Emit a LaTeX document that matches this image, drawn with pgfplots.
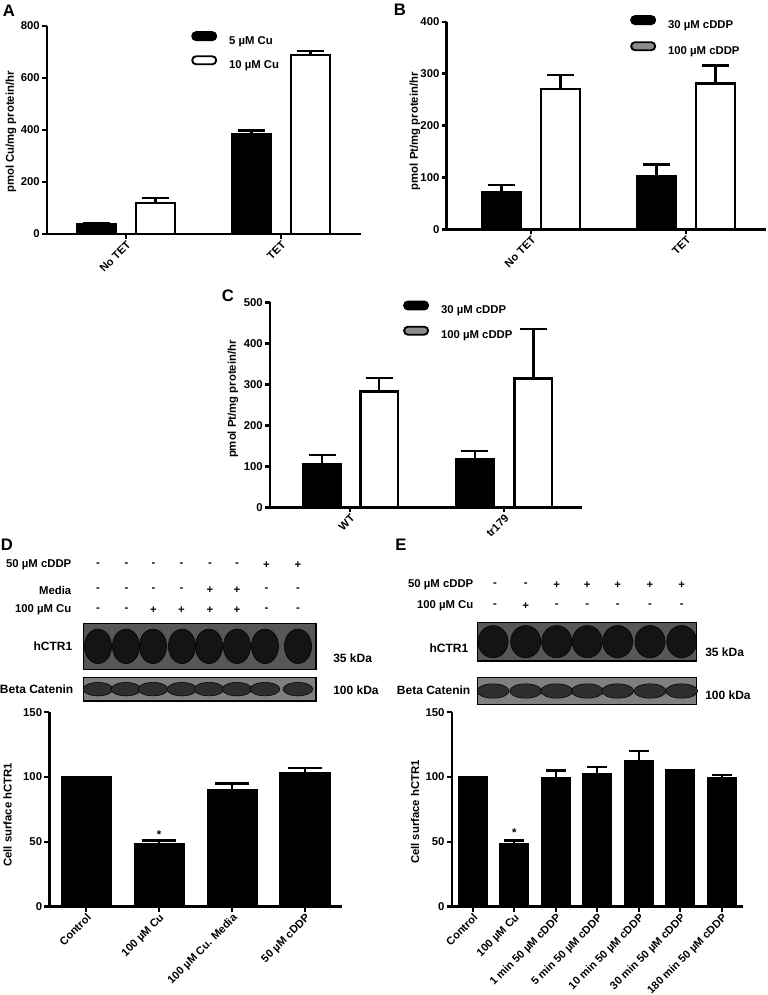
\documentclass[border=0pt]{standalone}
\usepackage{fontspec}
\setmainfont{Liberation Sans}
\usepackage{pgfplots}
\pgfplotsset{compat=1.18}
\newcommand\fs{\bfseries\fontsize{8.5}{10}\selectfont}
\newcommand\fx{\bfseries\fontsize{8.25}{10}\selectfont}
\newcommand\fb{\bfseries\fontsize{9}{10}\selectfont}
\newcommand\fl{\bfseries\fontsize{12.5}{13}\selectfont}
\pgfplotsset{
  panel/.style={
    scale only axis, anchor=south west, axis lines=left, clip=false,
    axis line style={line width=1.8pt, -},
    tick align=outside, major tick length=3.75pt,
    tick style={line width=1.8pt, black},
    /pgf/number format/assume math mode=true,
    yticklabel={\pgfmathprintnumber{\tick}},
    tick label style={font=\fs},
    xticklabel style={rotate=45, anchor=north east, inner sep=0.5pt, font=\fx},
    yticklabel style={inner sep=1.5pt},
    ymin=0,
    legend style={draw=none, fill=none, font=\fs, inner sep=0pt,
      nodes={inner sep=0pt, text height=6pt, text depth=0pt},
      /tikz/every odd column/.append style={column sep=9pt}},
    legend cell align=left,
    legend image code/.code={\draw[#1, line width=1.4pt, rounded corners=2.9pt] (0pt,0pt) rectangle (18pt,6pt);},
  },
  bars/.style={ybar, bar shift=0pt, line width=1.8pt, draw=black,
    error bars/y dir=plus, error bars/y explicit,
    error bars/error bar style={line width=1.8pt, black},
    error bars/error mark options={rotate=90, line width=1.8pt, black, mark size=#1}},
  blot/.style={scale only axis, anchor=south west, xtick=\empty, ytick=\empty,
    axis line style={line width=0.9pt}, clip=true, xmin=0, ymin=0},
  band/.style n args={3}{only marks, mark=*, mark size=#1, mark options={yscale=#2, fill=#3, draw=none}},
  ylab/.style 2 args={every axis y label/.style={at={(axis description cs:#1,#2)}, rotate=90, anchor=center, font=\fs}},
}
\begin{document}
\begin{tikzpicture}
\path[use as bounding box] (0,0) rectangle (575.25pt,-746.25pt);

% ---------- Panel A ----------
\begin{axis}[panel, at={(35.25pt,-175.5pt)}, width=235.5pt, height=156.2pt,
  xmin=-0.51, xmax=1.516, ymax=800, ytick={0,200,400,600,800},
  xtick={0,1}, xticklabels={No TET, TET},
  ylabel={pmol Cu/mg protein/hr}, ylab={-0.1146}{0.49},
  legend style={at={(axis description cs:0.4586,0.975)}, anchor=north west, row sep=8.4pt}]
\addlegendimage{fill=black, draw=black}
\addlegendimage{fill=white, draw=black}
\addplot[bars=10pt, fill=black, bar width=0.249, forget plot] coordinates {(-0.19,38) +- (0,5) (0.81,385) +- (0,13)};
\addplot[bars=10pt, fill=white, bar width=0.249, forget plot] coordinates {(0.19,120) +- (0,19) (1.19,687) +- (0,16)};
\legend{5 µM Cu, 10 µM Cu}
\end{axis}

% ---------- Panel B ----------
\begin{axis}[panel, at={(335.0pt,-172.0pt)}, width=239.5pt, height=155.7pt,
  xmin=-0.544, xmax=1.516, ymax=400, ytick={0,100,200,300,400},
  xtick={0,1}, xticklabels={No TET, TET},
  ylabel={pmol Pt/mg protein/hr}, ylab={-0.0993}{0.473},
  legend style={at={(axis description cs:0.574,1.033)}, anchor=north west, row sep=9.9pt}]
\addlegendimage{fill=black, draw=black}
\addlegendimage{fill=black!45, draw=black}
\addplot[bars=10pt, fill=black, bar width=0.249, forget plot] coordinates {(-0.19,72) +- (0,13) (0.81,102) +- (0,23)};
\addplot[bars=10pt, fill=white, bar width=0.249, forget plot] coordinates {(0.19,270) +- (0,27) (1.19,281) +- (0,35)};
\legend{30 µM cDDP, 100 µM cDDP}
\end{axis}

% ---------- Panel C ----------
\begin{axis}[panel, at={(202.5pt,-380.5pt)}, width=234pt, height=153.75pt,
  xmin=-0.519, xmax=1.506, ymax=500, ytick={0,100,200,300,400,500},
  xtick={0,1}, xticklabels={WT, tr179},
  ylabel={pmol Pt/mg protein/hr}, ylab={-0.1186}{0.528},
  legend style={at={(axis description cs:0.426,1.01)}, anchor=north west, row sep=9.2pt}]
\addlegendimage{fill=black, draw=black}
\addlegendimage{fill=black!45, draw=black}
\addplot[bars=10pt, fill=black, bar width=0.245, forget plot] coordinates {(-0.18,104) +- (0,24) (0.81,118) +- (0,20)};
\addplot[bars=10pt, fill=white, bar width=0.245, forget plot] coordinates {(0.19,283) +- (0,33) (1.19,314) +- (0,121)};
\legend{30 µM cDDP, 100 µM cDDP}
\end{axis}

% ---------- Panel D blots ----------
\begin{axis}[blot, at={(62.475pt,-501.975pt)}, width=174.5pt, height=34.5pt,
  xmax=232.7, ymax=46, axis background/.style={fill=black!66}]
\addplot[band={10.2pt}{1.27}{black!92}]
  coordinates {(14.7,23) (42.7,23) (69.7,23) (98.7,23) (125.7,23) (153.7,23) (181.7,23) (214.7,23)};
\end{axis}
\begin{axis}[blot, at={(62.475pt,-525.75pt)}, width=174.5pt, height=17.8pt,
  xmax=232.7, ymax=23.7, axis background/.style={fill=black!50}]
\addplot[band={11.2pt}{0.45}{black!82}]
  coordinates {(14.7,11.85) (42.7,11.85) (69.7,11.85) (98.7,11.85) (125.7,11.85) (153.7,11.85) (181.7,11.85) (214.7,11.85)};
\end{axis}

% ---------- Panel E blots ----------
\begin{axis}[blot, at={(358.275pt,-495.75pt)}, width=164.25pt, height=29pt,
  xmax=219, ymax=38.7, axis background/.style={fill=black!66}]
\addplot[band={11.3pt}{1.07}{black!92}]
  coordinates {(15.3,19.35) (48,19.35) (79,19.35) (109.6,19.35) (140,19.35) (172.3,19.35) (204,19.35)};
\end{axis}
\begin{axis}[blot, at={(358.275pt,-528.225pt)}, width=164.25pt, height=19.95pt,
  xmax=219, ymax=26.6, axis background/.style={fill=black!50}]
\addplot[band={12pt}{0.45}{black!82}]
  coordinates {(15.3,13.3) (48,13.3) (79,13.3) (109.6,13.3) (140,13.3) (172.3,13.3) (204,13.3)};
\end{axis}

% ---------- Panel D chart ----------
\begin{axis}[panel, at={(37pt,-680pt)}, width=219.5pt, height=145.8pt,
  xmin=-0.503, xmax=3.507, ymax=150, ytick={0,50,100,150},
  xtick={0,1,2,3}, xticklabels={Control, 100 µM Cu, 100 µM Cu. Media, 50 µM cDDP},
  ylabel={Cell surface hCTR1}, ylab={-0.1428}{0.472}]
\addplot[bars=13pt, fill=black, bar width=0.666] coordinates {(0,100) +- (0,0) (1,48.5) +- (0,2.5) (2,90) +- (0,5) (3,103) +- (0,4)};
\node[font=\fs, anchor=base] at (axis cs:1,52.8) {*};
\end{axis}

% ---------- Panel E chart ----------
\begin{axis}[panel, at={(338.8pt,-680pt)}, width=218.5pt, height=145.8pt,
  xmin=-0.506, xmax=6.513, ymax=150, ytick={0,50,100,150},
  xtick={0,1,2,3,4,5,6}, xticklabels={Control, 100 µM Cu, 1 min 50 µM cDDP, 5 min 50 µM cDDP, 10 min 50 µM cDDP, 30 min 50 µM cDDP, 180 min 50 µM cDDP},
  ylabel={Cell surface hCTR1}, ylab={-0.126}{0.487}]
\addplot[bars=7.5pt, fill=black, bar width=0.655] coordinates {(0,100) +- (0,0) (1,48.5) +- (0,2.5) (2,99.5) +- (0,5.5) (3,102.5) +- (0,5.5) (4,112) +- (0,8) (5,105) +- (0,0.5) (6,99.5) +- (0,2)};
\node[font=\fs, anchor=base] at (axis cs:1,54.1) {*};
\end{axis}

% ---------- Panel letters ----------
\node[font=\fl] at (9*0.75pt,-11*0.75pt) {A};
\node[font=\fl] at (400*0.75pt,-10*0.75pt) {B};
\node[font=\fl] at (228*0.75pt,-296*0.75pt) {C};
\node[font=\fl] at (7*0.75pt,-545*0.75pt) {D};
\node[font=\fl] at (401*0.75pt,-545*0.75pt) {E};

% ---------- D blot annotations ----------
\node[font=\fs, anchor=east] at (76*0.75pt,-565*0.75pt) {50 µM cDDP};
\node[font=\fs, anchor=east] at (76*0.75pt,-590*0.75pt) {Media};
\node[font=\fs, anchor=east] at (76*0.75pt,-610*0.75pt) {100 µM Cu};
\foreach \x/\a/\b/\c in {98/-/-/-, 126.5/-/-/-, 153.5/-/-/+, 181.5/-/-/+, 210/-/+/+, 237/-/+/+, 266.5/+/-/-, 298/+/-/-}{
  \node[font=\fs] at (\x*0.75pt,-565*0.75pt) {\a};
  \node[font=\fs] at (\x*0.75pt,-590*0.75pt) {\b};
  \node[font=\fs] at (\x*0.75pt,-610*0.75pt) {\c};
}
\node[font=\fb, anchor=east] at (77*0.75pt,-646.7*0.75pt) {hCTR1};
\node[font=\fb, anchor=east] at (78*0.75pt,-689.3*0.75pt) {Beta Catenin};
\node[font=\fb, anchor=west, inner sep=0pt] at (333*0.75pt,-658.3*0.75pt) {35 kDa};
\node[font=\fb, anchor=west, inner sep=0pt] at (333*0.75pt,-690*0.75pt) {100 kDa};

% ---------- E blot annotations ----------
\node[font=\fs, anchor=east] at (478*0.75pt,-585*0.75pt) {50 µM cDDP};
\node[font=\fs, anchor=east] at (478*0.75pt,-606*0.75pt) {100 µM Cu};
\foreach \x/\a/\b in {495/-/-, 525.7/-/+, 556.7/+/-, 587.3/+/-, 617.7/+/-, 650/+/-, 681.7/+/-}{
  \node[font=\fs] at (\x*0.75pt,-585*0.75pt) {\a};
  \node[font=\fs] at (\x*0.75pt,-606*0.75pt) {\b};
}
\node[font=\fb, anchor=east] at (473*0.75pt,-648.3*0.75pt) {hCTR1};
\node[font=\fb, anchor=east] at (475*0.75pt,-690*0.75pt) {Beta Catenin};
\node[font=\fb, anchor=west, inner sep=0pt] at (705*0.75pt,-652.7*0.75pt) {35 kDa};
\node[font=\fb, anchor=west, inner sep=0pt] at (705*0.75pt,-695*0.75pt) {100 kDa};
\end{tikzpicture}
\end{document}
